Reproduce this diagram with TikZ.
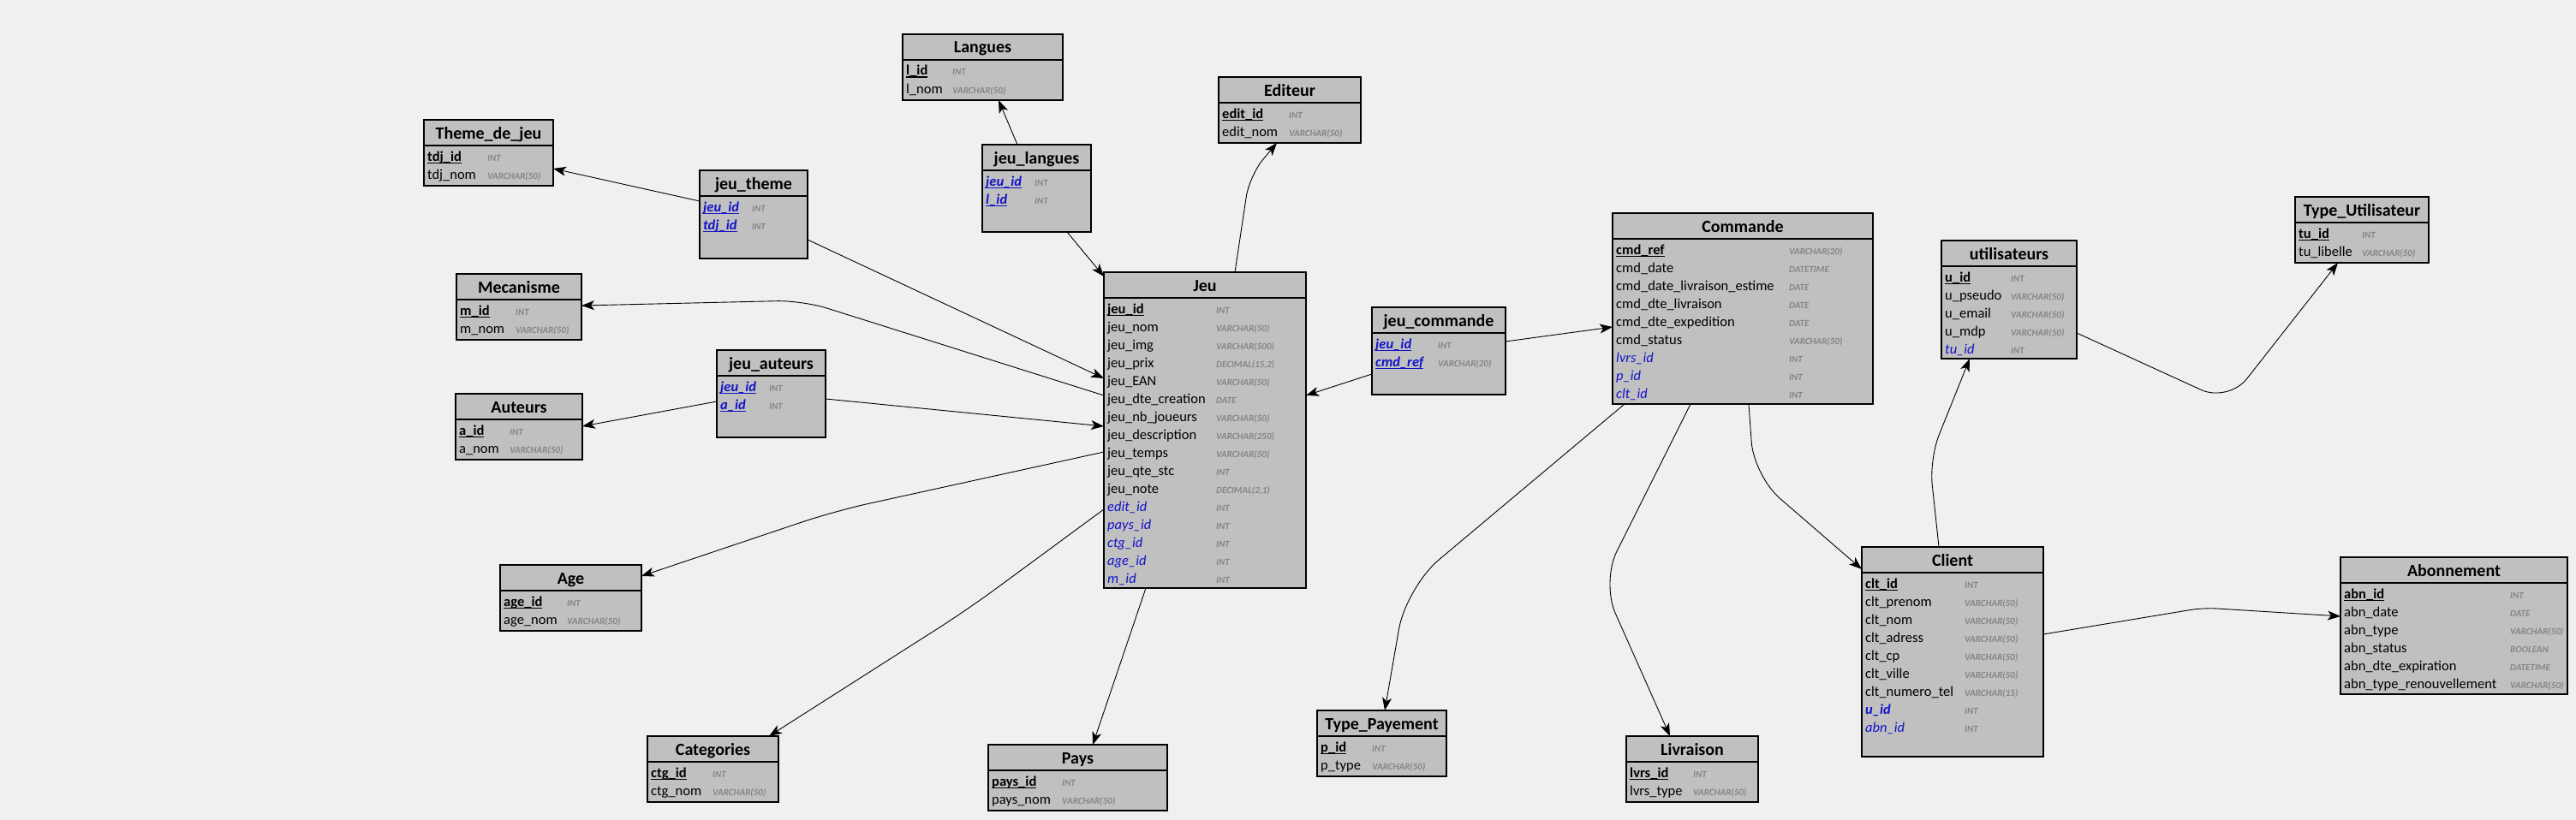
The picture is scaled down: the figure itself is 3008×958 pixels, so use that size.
\documentclass[tikz,border=0pt]{standalone}
\usepackage{fontspec}
\setmainfont{Carlito}
\usetikzlibrary{arrows.meta,calc}
\definecolor{bgc}{HTML}{F0F0F0}
\definecolor{boxc}{HTML}{C0C0C0}
\definecolor{fkc}{RGB}{20,20,200}
\definecolor{typc}{HTML}{858585}
\newcounter{rowk}
\newcommand{\pkul}[1]{\setbox0=\hbox{#1}\rlap{\rule[-2.6pt]{\wd0}{1.1pt}}\box0}
\tikzset{
  tblbox/.style={rectangle, draw=black, line width=1.2pt, fill=boxc, inner sep=0pt, outer sep=0pt},
  tblhead/.style={font=\fontsize{20}{20}\selectfont\bfseries, inner sep=0pt, anchor=base},
  plainrow/.style={font=\fontsize{16.5}{16.5}\selectfont, inner sep=0pt, anchor=base west},
  pkrow/.style={plainrow, font=\fontsize{16.5}{16.5}\selectfont\bfseries},
  fkrow/.style={plainrow, font=\fontsize{16.5}{16.5}\selectfont\itshape, text=fkc},
  pkfkrow/.style={plainrow, font=\fontsize{16.5}{16.5}\selectfont\bfseries\itshape, text=fkc},
  typrow/.style={font=\fontsize{11}{11}\selectfont\bfseries\itshape, text=typc, inner sep=0pt, anchor=base west},
  link/.style={draw=black, line width=0.9pt, -{Stealth[length=15pt,width=11pt,inset=4pt]}},
}
\newcommand{\ERtab}[7]{%
  \node[tblbox, minimum width=#4pt, minimum height=#5pt, anchor=north west] (#1) at (#2,#3) {};
  \draw[line width=1.4pt] ($(#1.north west)+(0,30)$) -- ($(#1.north east)+(0,30)$);
  \node[tblhead] (#1-title) at ($(#1.north)+(0,22)$) {#6};
  \gdef\curname{#1}\gdef\curx{#2}\gdef\cury{#3}\gdef\curt{#7}\setcounter{rowk}{0}}
\newcommand{\ERrow}[3]{%
  \stepcounter{rowk}%
  \node[#1] (\curname-n\therowk) at (\curx+4, \cury+27+21*\therowk) {#2};
  \node[typrow] (\curname-t\therowk) at (\curx+\curt, \cury+27+21*\therowk) {#3};}
\begin{document}
\begin{tikzpicture}[x=1pt, y=-1pt]
\useasboundingbox (0,0) rectangle (3008,958);
\fill[bgc] (0,0) rectangle (3008,958);

\ERtab{tdj}{495}{140}{151}{77}{Theme\_de\_jeu}{74}
\ERrow{pkrow}{\pkul{tdj\_id}}{INT}
\ERrow{plainrow}{tdj\_nom}{VARCHAR(50)}

\ERtab{jtheme}{817}{199}{126}{103}{jeu\_theme}{61}
\ERrow{pkfkrow}{\pkul{jeu\_id}}{INT}
\ERrow{pkfkrow}{\pkul{tdj\_id}}{INT}

\ERtab{lang}{1054}{40}{187}{77}{Langues}{58}
\ERrow{pkrow}{\pkul{l\_id}}{INT}
\ERrow{plainrow}{l\_nom}{VARCHAR(50)}

\ERtab{jlang}{1147}{169}{127}{102}{jeu\_langues}{61}
\ERrow{pkfkrow}{\pkul{jeu\_id}}{INT}
\ERrow{pkfkrow}{\pkul{l\_id}}{INT}

\ERtab{edit}{1423}{90}{166}{77}{Editeur}{82}
\ERrow{pkrow}{\pkul{edit\_id}}{INT}
\ERrow{plainrow}{edit\_nom}{VARCHAR(50)}

\ERtab{jeu}{1289}{318}{236}{369}{Jeu}{131}
\ERrow{pkrow}{\pkul{jeu\_id}}{INT}
\ERrow{plainrow}{jeu\_nom}{VARCHAR(50)}
\ERrow{plainrow}{jeu\_img}{VARCHAR(500)}
\ERrow{plainrow}{jeu\_prix}{DECIMAL(15,2)}
\ERrow{plainrow}{jeu\_EAN}{VARCHAR(50)}
\ERrow{plainrow}{jeu\_dte\_creation}{DATE}
\ERrow{plainrow}{jeu\_nb\_joueurs}{VARCHAR(50)}
\ERrow{plainrow}{jeu\_description}{VARCHAR(250)}
\ERrow{plainrow}{jeu\_temps}{VARCHAR(50)}
\ERrow{plainrow}{jeu\_qte\_stc}{INT}
\ERrow{plainrow}{jeu\_note}{DECIMAL(2,1)}
\ERrow{fkrow}{edit\_id}{INT}
\ERrow{fkrow}{pays\_id}{INT}
\ERrow{fkrow}{ctg\_id}{INT}
\ERrow{fkrow}{age\_id}{INT}
\ERrow{fkrow}{m\_id}{INT}

\ERtab{jcmd}{1602}{359}{156}{102}{jeu\_commande}{77}
\ERrow{pkfkrow}{\pkul{jeu\_id}}{INT}
\ERrow{pkfkrow}{\pkul{cmd\_ref}}{VARCHAR(20)}

\ERtab{cmd}{1883}{249}{304}{223}{Commande}{206}
\ERrow{pkrow}{\pkul{cmd\_ref}}{VARCHAR(20)}
\ERrow{plainrow}{cmd\_date}{DATETIME}
\ERrow{plainrow}{cmd\_date\_livraison\_estime}{DATE}
\ERrow{plainrow}{cmd\_dte\_livraison}{DATE}
\ERrow{plainrow}{cmd\_dte\_expedition}{DATE}
\ERrow{plainrow}{cmd\_status}{VARCHAR(50)}
\ERrow{fkrow}{lvrs\_id}{INT}
\ERrow{fkrow}{p\_id}{INT}
\ERrow{fkrow}{clt\_id}{INT}

\ERtab{users}{2267}{281}{158}{138}{utilisateurs}{81}
\ERrow{pkrow}{\pkul{u\_id}}{INT}
\ERrow{plainrow}{u\_pseudo}{VARCHAR(50)}
\ERrow{plainrow}{u\_email}{VARCHAR(50)}
\ERrow{plainrow}{u\_mdp}{VARCHAR(50)}
\ERrow{fkrow}{tu\_id}{INT}

\ERtab{tuser}{2680}{230}{156}{77}{Type\_Utilisateur}{78}
\ERrow{pkrow}{\pkul{tu\_id}}{INT}
\ERrow{plainrow}{tu\_libelle}{VARCHAR(50)}

\ERtab{client}{2174}{639}{212}{245}{Client}{120}
\ERrow{pkrow}{\pkul{clt\_id}}{INT}
\ERrow{plainrow}{clt\_prenom}{VARCHAR(50)}
\ERrow{plainrow}{clt\_nom}{VARCHAR(50)}
\ERrow{plainrow}{clt\_adress}{VARCHAR(50)}
\ERrow{plainrow}{clt\_cp}{VARCHAR(50)}
\ERrow{plainrow}{clt\_ville}{VARCHAR(50)}
\ERrow{plainrow}{clt\_numero\_tel}{VARCHAR(15)}
\ERrow{pkfkrow}{u\_id}{INT}
\ERrow{fkrow}{abn\_id}{INT}

\ERtab{abn}{2733}{651}{265}{160}{Abonnement}{198}
\ERrow{pkrow}{\pkul{abn\_id}}{INT}
\ERrow{plainrow}{abn\_date}{DATE}
\ERrow{plainrow}{abn\_type}{VARCHAR(50)}
\ERrow{plainrow}{abn\_status}{BOOLEAN}
\ERrow{plainrow}{abn\_dte\_expiration}{DATETIME}
\ERrow{plainrow}{abn\_type\_renouvellement}{VARCHAR(50)}

\ERtab{meca}{533}{320}{146}{77}{Mecanisme}{69}
\ERrow{pkrow}{\pkul{m\_id}}{INT}
\ERrow{plainrow}{m\_nom}{VARCHAR(50)}

\ERtab{jaut}{837}{409}{127}{102}{jeu\_auteurs}{61}
\ERrow{pkfkrow}{\pkul{jeu\_id}}{INT}
\ERrow{pkfkrow}{\pkul{a\_id}}{INT}

\ERtab{aut}{532}{460}{148}{77}{Auteurs}{63}
\ERrow{pkrow}{\pkul{a\_id}}{INT}
\ERrow{plainrow}{a\_nom}{VARCHAR(50)}

\ERtab{age}{584}{660}{165}{77}{Age}{78}
\ERrow{pkrow}{\pkul{age\_id}}{INT}
\ERrow{plainrow}{age\_nom}{VARCHAR(50)}

\ERtab{ctg}{756}{860}{153}{77}{Categories}{76}
\ERrow{pkrow}{\pkul{ctg\_id}}{INT}
\ERrow{plainrow}{ctg\_nom}{VARCHAR(50)}

\ERtab{pays}{1154}{870}{209}{77}{Pays}{86}
\ERrow{pkrow}{\pkul{pays\_id}}{INT}
\ERrow{plainrow}{pays\_nom}{VARCHAR(50)}

\ERtab{tpay}{1538}{830}{151}{77}{Type\_Payement}{64}
\ERrow{pkrow}{\pkul{p\_id}}{INT}
\ERrow{plainrow}{p\_type}{VARCHAR(50)}

\ERtab{livr}{1899}{860}{154}{77}{Livraison}{78}
\ERrow{pkrow}{\pkul{lvrs\_id}}{INT}
\ERrow{plainrow}{lvrs\_type}{VARCHAR(50)}

% connectors
\draw[link] ($(jtheme.north west)+(0,36)$) -- ($(tdj.north west)+(151,57)$);
\draw[link] ($(jtheme.north west)+(126,81)$) -- ($(jeu.north west)+(0,124)$);
\draw[link] ($(jlang.north west)+(41,0)$) -- ($(lang.north west)+(112,77)$);
\draw[link] ($(jlang.north west)+(99,102)$) -- ($(jeu.north west)+(0,5)$);
\draw[link, rounded corners=25pt] ($(jeu.north west)+(153,0)$) -- (1459,205) -- ($(edit.north west)+(68,77)$);
\draw[link, rounded corners=30pt] ($(jeu.north west)+(0,144)$) -- (937,351) -- ($(meca.north west)+(146,37)$);
\draw[link] ($(jaut.north west)+(0,60)$) -- ($(aut.north west)+(148,38)$);
\draw[link] ($(jaut.north west)+(127,57)$) -- ($(jeu.north west)+(0,180)$);
\draw[link, rounded corners=40pt] ($(jeu.north west)+(0,210)$) -- (975,597) -- ($(age.north west)+(165,13)$);
\draw[link, rounded corners=40pt] ($(jeu.north west)+(0,277)$) -- (1130,712) -- ($(ctg.north west)+(142,0)$);
\draw[link] ($(jeu.north west)+(49,369)$) -- ($(pays.north west)+(122,0)$);
\draw[link] ($(jcmd.north west)+(0,78)$) -- ($(jeu.north west)+(236,144)$);
\draw[link] ($(jcmd.north west)+(156,40)$) -- ($(cmd.north west)+(0,133)$);
\draw[link, rounded corners=50pt] ($(cmd.north west)+(14,223)$) -- (1642,686) -- ($(tpay.north west)+(79,0)$);
\draw[link, rounded corners=40pt] ($(cmd.north west)+(91,223)$) -- (1870,680) -- ($(livr.north west)+(51,0)$);
\draw[link, rounded corners=40pt] ($(cmd.north west)+(159,223)$) -- (2048,556) -- ($(client.north west)+(0,26)$);
\draw[link, rounded corners=30pt] ($(client.north west)+(90,0)$) -- (2253,536) -- ($(users.north west)+(33,138)$);
\draw[link, rounded corners=15pt] ($(client.north west)+(212,102)$) -- (2573,710) -- ($(abn.north west)+(0,69)$);
\draw[link, rounded corners=35pt] ($(users.north west)+(158,108)$) -- (2602,470) -- ($(tuser.north west)+(50,77)$);
\end{tikzpicture}
\end{document}
